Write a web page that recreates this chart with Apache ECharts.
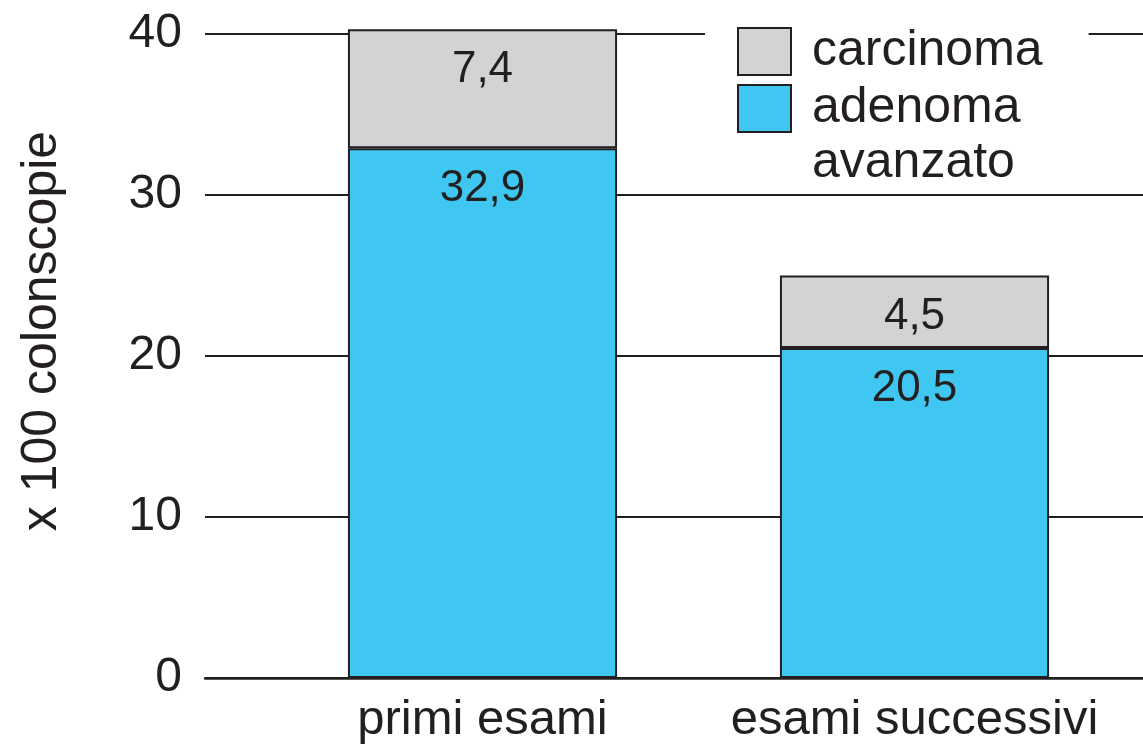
<!DOCTYPE html>
<html>
<head>
<meta charset="utf-8">
<script src="https://cdn.jsdelivr.net/npm/echarts@6/dist/echarts.min.js"></script>
<style>
html,body{margin:0;padding:0;background:#fff;}
#chart{width:1143px;height:748px;}
</style>
</head>
<body>
<div id="chart"></div>
<script>
const categories = ['primi esami', 'esami successivi'];
const adenomaValues = [32.9, 20.5];
const carcinomaValues = [7.4, 4.5];
const seriesNames = ['adenoma\navanzato', 'carcinoma'];
const yAxisName = 'x 100 colonscopie';
const yMin = 0, yMax = 40, yInterval = 10;

const INK = '#231f20';
const FONT = '"Liberation Sans", Arial, sans-serif';
const fmt = p => p.value.toFixed(1).replace('.', ',');

const chart = echarts.init(document.getElementById('chart'), null, {renderer: 'canvas'});
chart.setOption({
  backgroundColor: '#ffffff',
  animation: false,
  textStyle: {fontFamily: FONT, color: INK},
  grid: [
    {left: 205, right: 0, top: 34, bottom: 70, containLabel: false, outerBoundsMode: 'none'},
    {left: 266.5, right: 12.5, top: 34, bottom: 70, containLabel: false, outerBoundsMode: 'none'}
  ],
  xAxis: [
    {gridIndex: 0, type: 'category', data: categories, show: true,
     axisLine: {show: true, lineStyle: {color: INK, width: 2.5}},
     axisTick: {show: false}, axisLabel: {show: false}, splitLine: {show: false}},
    {gridIndex: 1, type: 'category', data: categories,
     axisLine: {show: false}, axisTick: {show: false},
     axisLabel: {show: true, interval: 0, fontSize: 49, color: INK, fontFamily: FONT, margin: 18}}
  ],
  yAxis: [
    {gridIndex: 0, type: 'value', min: yMin, max: yMax, interval: yInterval,
     name: yAxisName, nameLocation: 'middle', nameRotate: 90, nameGap: 138,
     nameTextStyle: {fontSize: 50, color: INK, fontFamily: FONT, padding: [0, 0, 0, 50]},
     axisLine: {show: false}, axisTick: {show: false},
     axisLabel: {fontSize: 48, color: INK, fontFamily: FONT, margin: 23},
     splitLine: {show: true, lineStyle: {color: INK, width: 2}}},
    {gridIndex: 1, type: 'value', min: yMin, max: yMax, interval: yInterval, show: false,
     splitLine: {show: false}}
  ],
  legend: {
    orient: 'vertical', left: 705, top: 0,
    padding: [24, 46, 0, 32],
    backgroundColor: '#ffffff',
    itemWidth: 53, itemHeight: 47, itemGap: -53,
    icon: 'rect',
    formatter: name => name.indexOf('\n') >= 0 ? ' \n' + name : name,
    textStyle: {fontSize: 50, lineHeight: 55, color: INK, fontFamily: FONT, padding: [0, 0, 0, 16]},
    data: [{name: seriesNames[1]}, {name: seriesNames[0]}]
  },
  series: [
    {name: seriesNames[0], type: 'bar', stack: 'tot', xAxisIndex: 1, yAxisIndex: 1,
     data: adenomaValues, barWidth: '62.3%', clip: false,
     itemStyle: {color: '#3fc7f2', borderColor: INK, borderWidth: 2},
     label: {show: true, position: 'insideTop', distance: 19, fontSize: 44, color: INK, fontFamily: FONT, formatter: fmt}},
    {name: seriesNames[1], type: 'bar', stack: 'tot', xAxisIndex: 1, yAxisIndex: 1,
     data: carcinomaValues, barWidth: '62.3%', clip: false,
     itemStyle: {color: '#d1d3d4', borderColor: INK, borderWidth: 2},
     label: {show: true, position: 'insideTop', distance: 19, fontSize: 44, color: INK, fontFamily: FONT, formatter: fmt}}
  ]
});
</script>
</body>
</html>
